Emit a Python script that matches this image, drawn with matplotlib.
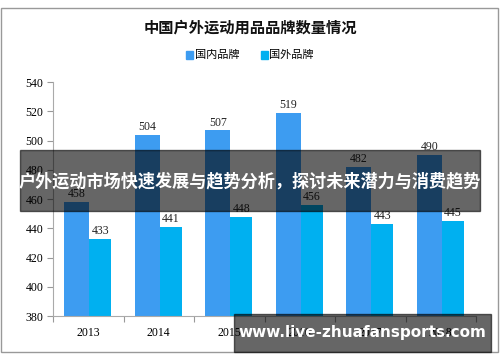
import matplotlib

matplotlib.use("Agg")
import matplotlib.pyplot as plt
from matplotlib.patches import Rectangle

plt.rcParams["font.family"] = ["Noto Sans CJK SC", "DejaVu Sans"]

years = ["2013", "2014", "2015", "2016", "2017", "2018"]
domestic = [458, 504, 507, 519, 482, 490]
foreign = [433, 441, 448, 456, 443, 445]
yticks = [380, 400, 420, 440, 460, 480, 500, 520, 540]

title = "中国户外运动用品品牌数量情况"
legend_labels = ["国内品牌", "国外品牌"]
banner_text = "户外运动市场快速发展与趋势分析，探讨未来潜力与消费趋势"
site_text = "www.live-zhuafansports.com"

c_dom = "#3d9cf1"
c_for = "#00b0f0"
serif = ["Liberation Serif", "DejaVu Serif"]

fig = plt.figure(figsize=(5, 3.62), dpi=100)

# outer frame
fig.patches.append(Rectangle((0.002, 0.028), 0.994, 0.95, transform=fig.transFigure,
                             fill=False, edgecolor="#999999", linewidth=1.0, zorder=1))

ax = fig.add_axes([0.106, 0.127, 0.846, 0.6464])
ax.patch.set_alpha(0)
x = list(range(len(years)))
ax.bar([i - 0.163 for i in x], domestic, width=0.355, color=c_dom, zorder=2)
ax.bar([i + 0.172 for i in x], foreign, width=0.315, color=c_for, zorder=2)

# value labels just above each bar
for i in x:
    ax.text(i - 0.163, domestic[i] + 1.2, str(domestic[i]), ha="center", va="bottom",
            fontsize=8.5, family=serif, color="#222222")
    ax.text(i + 0.172, foreign[i] + 1.2, str(foreign[i]), ha="center", va="bottom",
            fontsize=8.5, family=serif, color="#222222")

ax.set_xlim(-0.5, 5.5)
ax.set_ylim(380, 540)
ax.set_yticks(yticks)
ax.set_yticklabels([str(v) for v in yticks], family=serif, fontsize=8.5)
ax.set_xticks([i - 0.5 for i in range(len(years) + 1)])
ax.set_xticklabels([])
ax.set_xticks(x, minor=True)
ax.set_xticklabels(years, minor=True, family=serif, fontsize=8.5)
ax.tick_params(axis="x", which="minor", length=0, pad=8)
ax.tick_params(axis="x", which="major", length=4, color="#999999")
ax.tick_params(axis="y", length=4, color="#999999", pad=3)
for s in ["top", "right"]:
    ax.spines[s].set_visible(False)
for s in ["left", "bottom"]:
    ax.spines[s].set_color("#aaaaaa")

fig.text(0.5, 0.925, title, ha="center", va="center", fontsize=11, weight="bold",
         color="#111111")

# legend
fig.patches.append(Rectangle((0.372, 0.838), 0.014, 0.020, transform=fig.transFigure,
                             color=c_dom))
fig.text(0.39, 0.848, legend_labels[0], ha="left", va="center", fontsize=8)
fig.patches.append(Rectangle((0.521, 0.838), 0.014, 0.020, transform=fig.transFigure,
                             color=c_for))
fig.text(0.539, 0.848, legend_labels[1], ha="left", va="center", fontsize=8)

# overlay banners
fig.patches.append(Rectangle((0.04, 1 - 211 / 362), 0.92, 61 / 362, transform=fig.transFigure,
                             color="black", alpha=0.6, zorder=5))
fig.text(0.5, 1 - 181 / 362, banner_text, ha="center", va="center", fontsize=12.3,
         weight="bold", color="white", zorder=6)
fig.patches.append(Rectangle((234 / 500, 1 - 352 / 362), 257 / 500, 38 / 362,
                             transform=fig.transFigure, color="black", alpha=0.6, zorder=5))
fig.text(362 / 500, 1 - 333 / 362, site_text, ha="center", va="center", fontsize=11,
         weight="bold", color="white", family=["DejaVu Sans"], zorder=6)

plt.savefig("out.png", dpi=100)
plt.close()
